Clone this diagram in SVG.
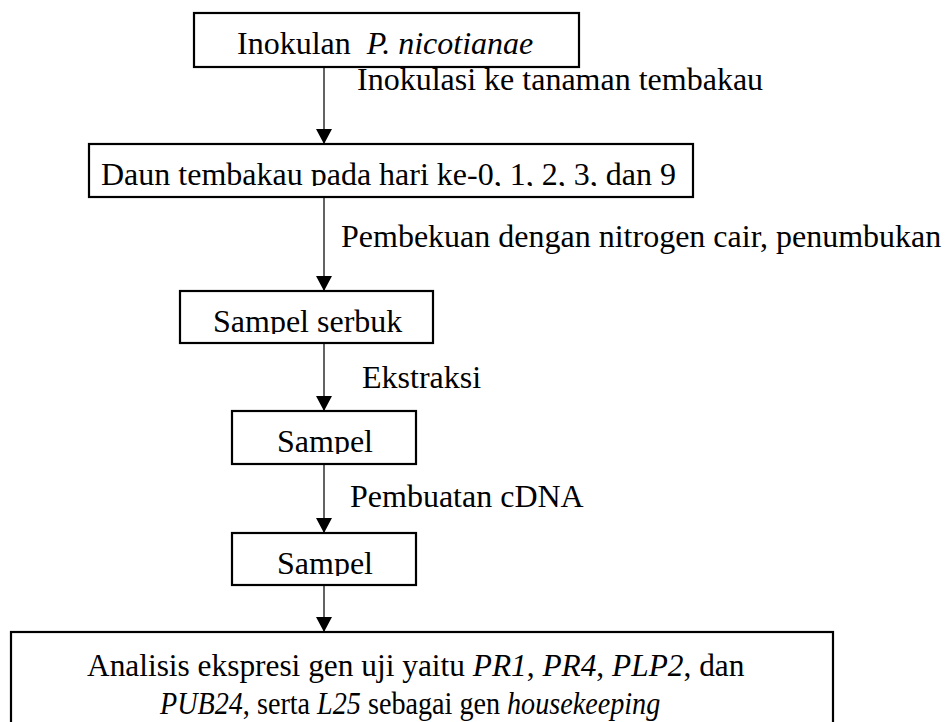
<svg xmlns="http://www.w3.org/2000/svg" width="947" height="722" viewBox="0 0 947 722">
<style>
.box{fill:#fff;stroke:#000;stroke-width:2.2}
.t{font-family:"Liberation Serif","Times New Roman",serif;font-size:32px;fill:#000}
.i{font-style:italic}
.ln{stroke:#222;stroke-width:1.4;fill:none}
</style>
<defs>
<marker id="ah" viewBox="0 0 15 16" refX="15" refY="8" markerWidth="15" markerHeight="16" markerUnits="userSpaceOnUse" orient="auto">
<path d="M0,0 L15,8 L0,16 Z" fill="#000"/>
</marker>
<clipPath id="c2"><rect x="89" y="140" width="610" height="46"/></clipPath>
<clipPath id="c3"><rect x="178" y="288" width="260" height="46"/></clipPath>
<clipPath id="c4"><rect x="230" y="408" width="190" height="46"/></clipPath>
<clipPath id="c5"><rect x="230" y="530" width="190" height="46"/></clipPath>
</defs>
<g id="connectors">
<line class="ln" x1="324" y1="67" x2="324" y2="144" marker-end="url(#ah)"/>
<line class="ln" x1="324" y1="197" x2="324" y2="291" marker-end="url(#ah)"/>
<line class="ln" x1="324" y1="343" x2="324" y2="411" marker-end="url(#ah)"/>
<line class="ln" x1="324" y1="464" x2="324" y2="533" marker-end="url(#ah)"/>
<line class="ln" x1="324" y1="585" x2="324" y2="632" marker-end="url(#ah)"/>
<text class="t" x="357" y="90">Inokulasi ke tanaman tembakau</text>
<text class="t" x="341" y="247">Pembekuan dengan nitrogen cair, penumbukan</text>
<text class="t" x="362" y="388">Ekstraksi</text>
<text class="t" x="350" y="507">Pembuatan cDNA</text>
</g>
<g id="n1">
<rect class="box" x="194" y="13" width="385" height="54"/>
<text class="t" x="237" y="54" xml:space="preserve">Inokulan  <tspan class="i">P. nicotianae</tspan></text>
</g>
<g id="n2">
<rect class="box" x="89" y="144" width="604" height="53"/>
<text class="t" x="101" y="185" clip-path="url(#c2)">Daun tembakau pada hari ke-0, 1, 2, 3, dan 9</text>
</g>
<g id="n3">
<rect class="box" x="180" y="291" width="253" height="52"/>
<text class="t" x="213" y="332" clip-path="url(#c3)">Sampel serbuk</text>
</g>
<g id="n4">
<rect class="box" x="232" y="411" width="184" height="53"/>
<text class="t" x="277" y="452" clip-path="url(#c4)">Sampel</text>
</g>
<g id="n5">
<rect class="box" x="232" y="533" width="184" height="52"/>
<text class="t" x="277" y="574" clip-path="url(#c5)">Sampel</text>
</g>
<g id="n6">
<rect class="box" x="11" y="632" width="822" height="110"/>
<text class="t" transform="translate(87 676) scale(0.98 1)">Analisis ekspresi gen uji yaitu <tspan class="i">PR1</tspan>, <tspan class="i">PR4</tspan>, <tspan class="i">PLP2</tspan>, dan</text>
<text class="t" transform="translate(160 714) scale(0.88 1)"><tspan class="i">PUB24</tspan>, serta <tspan class="i">L25</tspan> sebagai gen <tspan class="i">housekeeping</tspan></text>
</g>
</svg>
